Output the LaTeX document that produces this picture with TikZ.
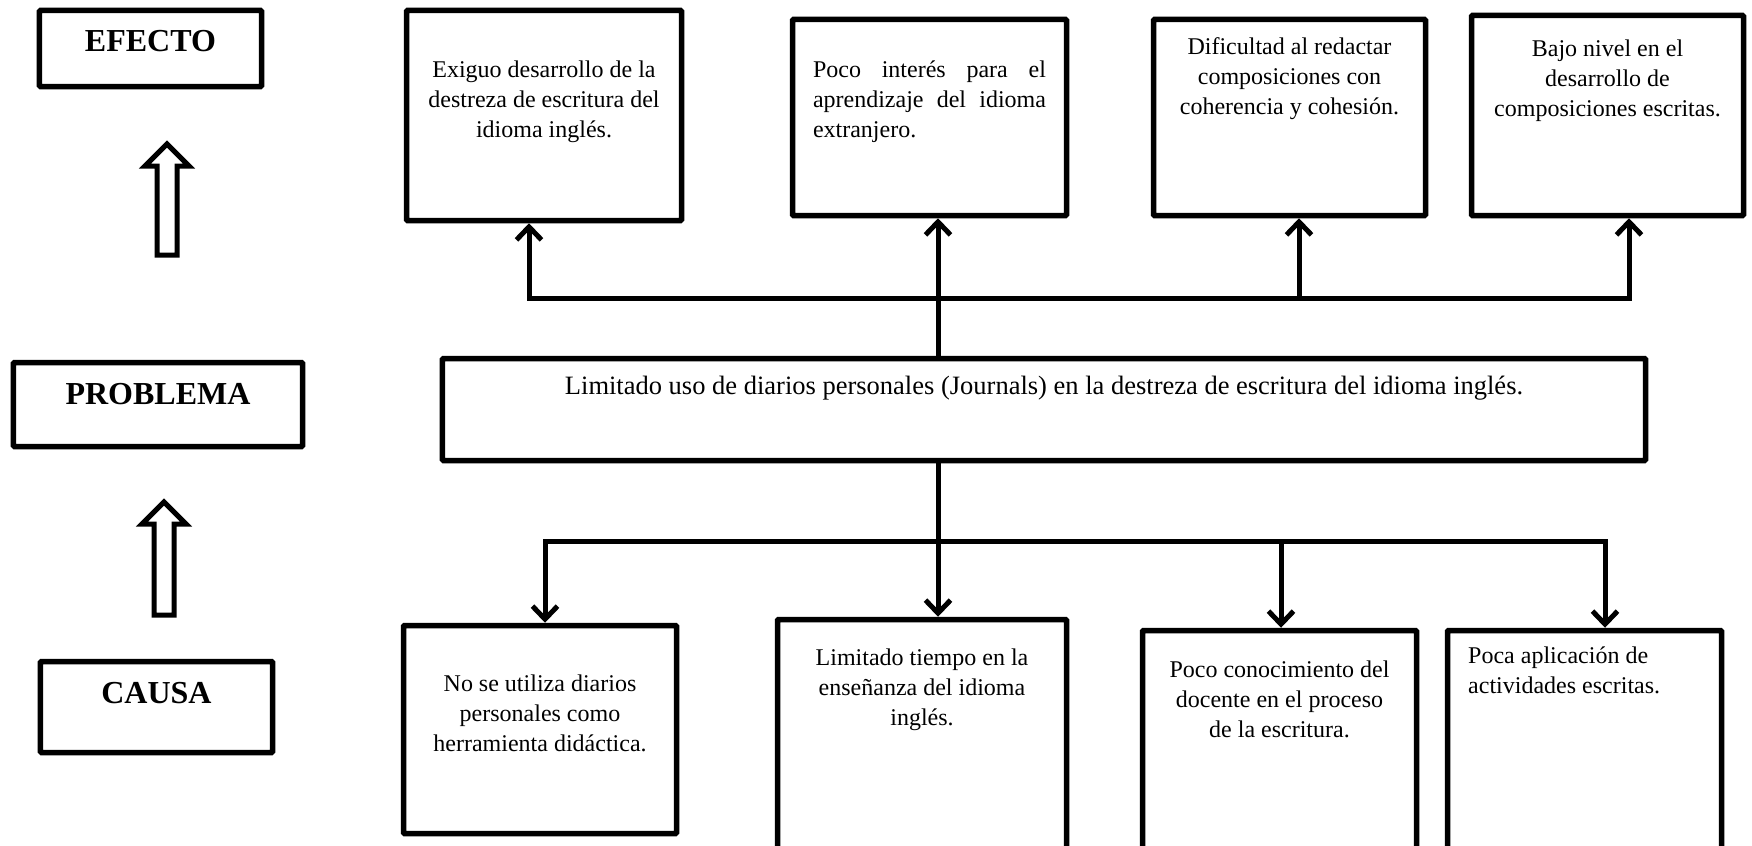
\documentclass[tikz,border=0pt]{standalone}
\usepackage{fontspec}
\setmainfont{Liberation Serif}
\usetikzlibrary{arrows.meta}
\tikzset{
  cbox/.style 2 args={draw, line width=5.5bp, rounded corners=1bp, inner sep=0pt,
    minimum width=#1, minimum height=#2},
  txt/.style={inner sep=0pt, font=\fontsize{24bp}{30bp}\selectfont, align=center, anchor=north},
  lab/.style={inner sep=0pt, font=\bfseries\fontsize{32bp}{36bp}\selectfont, anchor=base},
  conn/.style={line width=5bp, line cap=rect},
  arr/.style={line width=5bp, line cap=rect, -{Straight Barb[length=13bp,width=25bp]}},
  hollow/.style={draw, line width=5bp, line join=miter, fill=white}
}
\begin{document}
\begin{tikzpicture}[x=1bp,y=-1bp]
\useasboundingbox[fill=white] (0,0) rectangle (1752,846);

% left column labels
\node[cbox={222bp}{76bp}] (efecto) at (150.5,48.5) {};
\node[lab] (efectot) at (150.5,51) {EFECTO};
\node[cbox={289bp}{84bp}] (problema) at (158,404.5) {};
\node[lab] (problemat) at (158,404) {PROBLEMA};
\node[cbox={232bp}{91bp}] (causa) at (156.5,707) {};
\node[lab] (causat) at (156.5,703) {CAUSA};

% hollow arrows
\draw[hollow] (167,144) -- (189,166) -- (177,166) -- (177,255) -- (157,255) -- (157,166) -- (145,166) -- cycle;
\draw[hollow] (164,502) -- (186,524) -- (174,524) -- (174,615) -- (154,615) -- (154,524) -- (142,524) -- cycle;

% effects
\node[cbox={275bp}{210bp}] (b1) at (544,115.5) {};
\node[txt] (b1t) at (544,60.6) {Exiguo desarrollo de la\\destreza de escritura del\\idioma inglés.};
\node[cbox={274bp}{196bp}] (b2) at (929.5,117.5) {};
\node[txt, align=left] (b2t) at (929.5,60.6) {\makebox[233bp][s]{Poco interés para el}\\\makebox[233bp][s]{aprendizaje del idioma}\\extranjero.};
\node[cbox={272bp}{196bp}] (b3) at (1289.5,117.5) {};
\node[txt] (b3t) at (1289.5,37.6) {Dificultad al redactar\\composiciones con\\coherencia y cohesión.};
\node[cbox={272bp}{200bp}] (b4) at (1607.5,115.5) {};
\node[txt] (b4t) at (1607.5,39.6) {Bajo nivel en el\\desarrollo de\\composiciones escritas.};

% problem
\node[cbox={1203bp}{102bp}] (pb) at (1044,409.5) {};
\node[inner sep=0pt, font=\fontsize{26.5bp}{32bp}\selectfont, anchor=base] (pbt) at (1044,394) {Limitado uso de diarios personales (Journals) en la destreza de escritura del idioma inglés.};

% causes
\node[cbox={273bp}{208bp}] (c1) at (540,729.5) {};
\node[txt] (c1t) at (540,674.6) {No se utiliza diarios\\personales como\\herramienta didáctica.};
\node[cbox={289bp}{230bp}] (c2) at (922,734.5) {};
\node[txt] (c2t) at (922,648.6) {Limitado tiempo en la\\enseñanza del idioma\\inglés.};
\node[cbox={274bp}{219bp}] (c3) at (1279.5,740) {};
\node[txt] (c3t) at (1279.5,660.6) {Poco conocimiento del\\docente en el proceso\\de la escritura.};
\node[cbox={274bp}{219bp}] (c4) at (1584.5,740) {};
\node[txt, align=left, anchor=north west] (c4t) at (1468,646.6) {Poca aplicación de\\actividades escritas.};

% top connectors
\coordinate (tb1) at (529,298);
\coordinate (tb3) at (1299,298);
\coordinate (tb4) at (1629,298);
\coordinate (mx) at (938,400);
\draw[conn] (tb1) -- (tb4);
\draw[arr] (tb1) -- (tb1 |- b1.south);
\draw[arr] (tb3) -- (tb3 |- b3.south);
\draw[arr] (tb4) -- (tb4 |- b4.south);
\draw[arr] (mx |- pb.north) -- (mx |- b2.south);

% bottom connectors
\coordinate (bb1) at (545,541);
\coordinate (bb3) at (1281,541);
\coordinate (bb4) at (1605,541);
\draw[conn] (bb1) -- (bb4);
\draw[arr] (mx |- pb.south) -- (mx |- c2.north);
\draw[arr] (bb1) -- (bb1 |- c1.north);
\draw[arr] (bb3) -- (bb3 |- c3.north);
\draw[arr] (bb4) -- (bb4 |- c4.north);
\end{tikzpicture}
\end{document}
